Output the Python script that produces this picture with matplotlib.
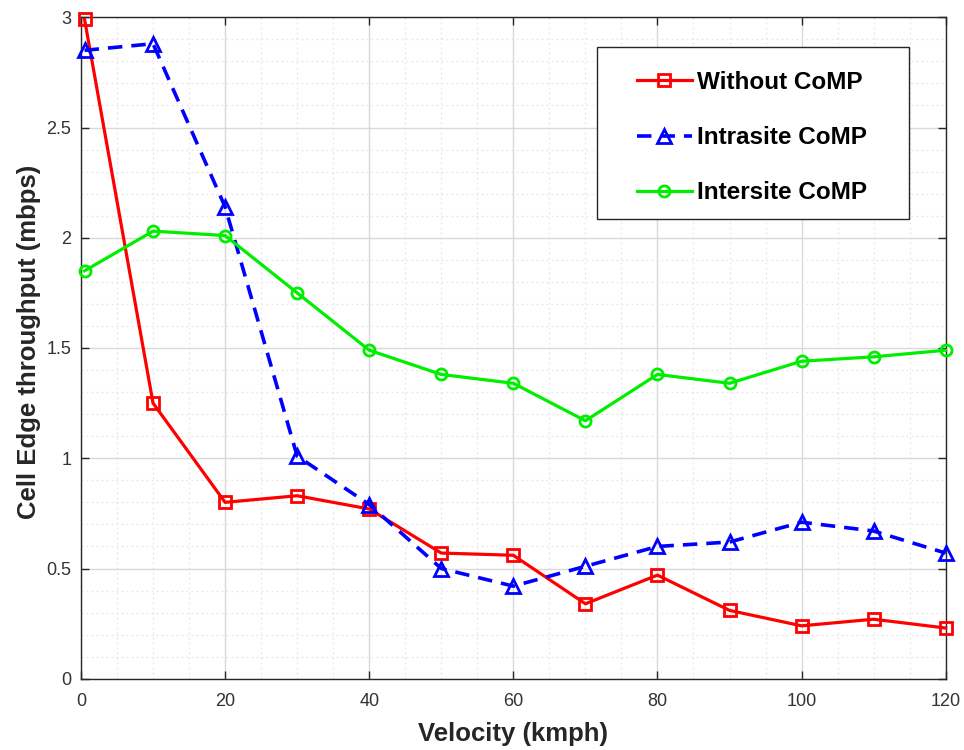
import numpy as np
import matplotlib
matplotlib.use("Agg")
import matplotlib.pyplot as plt
from matplotlib.ticker import MultipleLocator, FuncFormatter
from matplotlib.patches import Rectangle

# velocity points (kmph)
velocity = [0.5, 10, 20, 30, 40, 50, 60, 70, 80, 90, 100, 110, 120]

# cell edge throughput (mbps) for each scheme
without_comp = [2.99, 1.25, 0.80, 0.83, 0.77, 0.57, 0.56, 0.34, 0.47, 0.31, 0.24, 0.27, 0.23]
intrasite_comp = [2.85, 2.88, 2.14, 1.01, 0.79, 0.50, 0.42, 0.51, 0.60, 0.62, 0.71, 0.67, 0.57]
intersite_comp = [1.85, 2.03, 2.01, 1.75, 1.49, 1.38, 1.34, 1.17, 1.38, 1.34, 1.44, 1.46, 1.49]

plt.rcParams['font.family'] = ['Liberation Sans', 'DejaVu Sans']

fig = plt.figure(figsize=(9.64, 7.5), dpi=100)
ax = fig.add_axes([0.084, 0.095, 0.897, 0.882])

ax.plot(velocity, without_comp, color='#ff0000', lw=2.3, marker='s', ms=8,
        mfc='none', mew=2, label='Without CoMP', clip_on=False, zorder=3)
ax.plot(velocity, intrasite_comp, color='#0000ff', lw=2.6, ls=(0, (4, 2.5)), marker='^', ms=10,
        mfc='none', mew=2, label='Intrasite CoMP', clip_on=False, zorder=3)
ax.plot(velocity, intersite_comp, color='#00ee00', lw=2.3, marker='o', ms=8,
        mfc='none', mew=2, label='Intersite CoMP', clip_on=False, zorder=3)

ax.set_xlim(0, 120)
ax.set_ylim(0, 3)
ax.xaxis.set_major_locator(MultipleLocator(20))
ax.xaxis.set_minor_locator(MultipleLocator(5))
ax.yaxis.set_major_locator(MultipleLocator(0.5))
ax.yaxis.set_minor_locator(MultipleLocator(0.1))
ax.yaxis.set_major_formatter(FuncFormatter(lambda v, p: f'{v:g}'))

ax.grid(which='major', color='#d9d9d9', lw=1.0)
ax.grid(which='minor', color='#e6e6e6', lw=0.9, ls=(0, (1.5, 2.5)))
ax.set_axisbelow(True)

for s in ax.spines.values():
    s.set_color('#262626')
    s.set_linewidth(1.0)
ax.tick_params(which='major', direction='in', length=6, width=1, colors='#262626',
               labelsize=13, labelcolor='#333333', top=True, right=True, pad=7)
ax.tick_params(which='minor', length=0)
ax.tick_params(axis='x', pad=10)

ax.set_xlabel('Velocity (kmph)', fontsize=18.5, fontweight='bold', color='#262626', labelpad=9)
ax.set_ylabel('Cell Edge throughput (mbps)', fontsize=18.5, fontweight='bold', color='#262626')
ax.yaxis.set_label_coords(-0.046, 0.51)

# legend box drawn separately so the padding can be wider at the sides
box = Rectangle((0.5965, 0.6947), 0.3615, 0.26, transform=ax.transAxes, facecolor='white',
                edgecolor='#262626', lw=1.0, zorder=4)
ax.add_patch(box)
leg = ax.legend(loc='upper left', bbox_to_anchor=(0.643, 0.919),
                prop={'weight': 'bold', 'size': 17.5}, handlelength=2.25,
                labelspacing=1.33, borderpad=0, handletextpad=0.2, borderaxespad=0,
                frameon=False)
leg.set_zorder(5)

fig.savefig('out.png', dpi=100)
